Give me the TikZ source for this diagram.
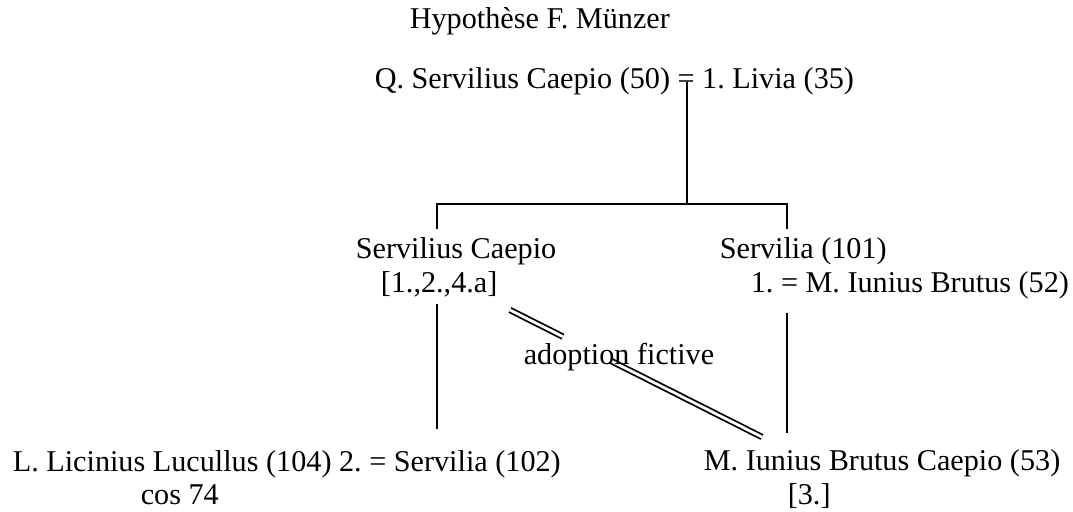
\documentclass[tikz,border=0pt]{standalone}
\usepackage{fontspec}
\setmainfont{Liberation Serif}
\usetikzlibrary{calc}
\begin{document}
\frenchspacing
\begin{tikzpicture}[x=0.5pt,y=-0.5pt,line width=0.8pt,
	person/.style={font=\fontsize{15.1}{17}\selectfont,inner xsep=0pt,inner ysep=3.5pt,anchor=base west},
	adopt/.style={double,double distance=1.4pt,line width=0.9pt}]
		\useasboundingbox (0,0) rectangle (1073,511);
		\node[person] (title) at (409,28) {Hypothèse F. Münzer};
		\node[person] (qsc) at (374,88) {Q. Servilius Caepio (50) = 1. Livia (35)};
		\node[person] (caepio) at (355,258) {Servilius Caepio};
		\node[person] (caepioref) at (380,292) {[1.,2.,4.a]};
		\node[person] (servilia) at (719,258) {Servilia (101)};
		\node[person] (brutusa) at (750,292) {1. = M. Iunius Brutus (52)};
		\node[person] (luc) at (12,471) {L. Licinius Lucullus (104) 2. = Servilia (102)};
		\node[person] (cos) at (140,504) {cos 74};
		\node[person] (mbc) at (703,470) {M. Iunius Brutus Caepio (53)};
		\node[person] (mbcref) at (787,504) {[3.]};
		\coordinate (m1) at (687,82);
		\coordinate (fork) at (687,204);
		\coordinate (xl) at (437,0);
		\coordinate (xr) at (787,0);
		\draw (m1) -- (fork);
		\draw (xl |- caepio.north) |- (fork) -| (xr |- servilia.north);
		\draw[shorten >=6.5pt] (xl |- caepioref.south) -- (xl |- luc.north);
		\draw[shorten <=3.25pt,shorten >=4pt] (xr |- brutusa.south) -- (xr |- mbc.north);
		\coordinate (adA) at (510,310);
		\coordinate (adB) at (762,437);
		\draw[adopt] (adA) -- ($(adA)!0.21!(adB)$);
		\draw[adopt] ($(adA)!0.4!(adB)$) -- (adB);
		\node[person] (fictive) at (523,364) {adoption fictive};
	\end{tikzpicture}
\end{document}
